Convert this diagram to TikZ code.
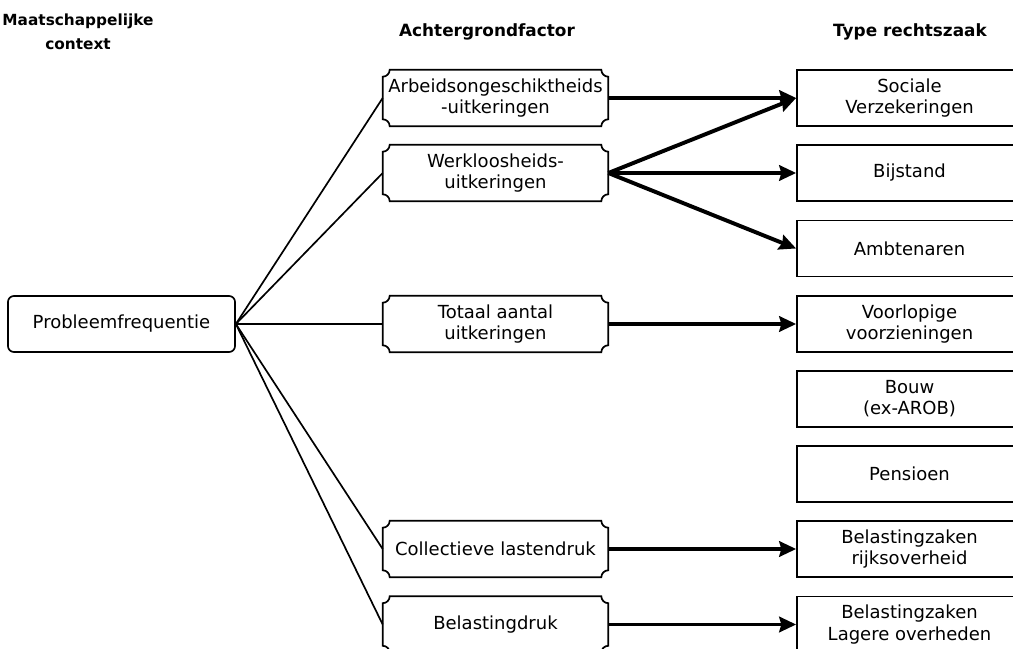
\documentclass[tikz,border=0pt]{standalone}
\usepackage{fontspec}
\setmainfont{DejaVu Sans}
\usetikzlibrary{arrows.meta}

\tikzset{
  context/.style={draw, line width=1.2pt, rounded corners=0.15cm, minimum width=5.675cm, minimum height=1.4cm, inner sep=0pt, align=center},
  factor/.style={minimum width=5.625cm, minimum height=1.4cm, inner sep=0pt, align=center},
  zaak/.style={draw, line width=1.2pt, minimum width=5.625cm, minimum height=1.4cm, inner sep=0pt, align=center},
  kop/.style={font=\fontsize{12}{17}\selectfont\bfseries, align=center},
  verband/.style={line width=1.2pt},
  pijl/.style={line width=2.8pt, -{Stealth[length=12pt,width=11pt,inset=1.5pt]}}
}

% frame with hollow corners for the middle column
\newcommand{\inkeping}[1]{%
  \draw[line width=1.2pt] ([xshift=0.175cm]#1.north west) -- ([xshift=-0.175cm]#1.north east)
    arc[start angle=180,end angle=270,radius=0.175cm]
    -- ([yshift=0.175cm]#1.south east)
    arc[start angle=90,end angle=180,radius=0.175cm]
    -- ([xshift=0.175cm]#1.south west)
    arc[start angle=0,end angle=90,radius=0.175cm]
    -- ([yshift=-0.175cm]#1.north west)
    arc[start angle=270,end angle=360,radius=0.175cm] -- cycle;}

\begin{document}
\begin{tikzpicture}[x=0.025cm, y=-0.025cm, font=\fontsize{12.8}{15}\selectfont]
  \useasboundingbox (0,0) rectangle (1013,649);
  \clip (0,0) rectangle (1013,649);

  % headings
  \node[kop, font=\fontsize{10.9}{17}\selectfont\bfseries] (kopcontext) at (78,32) {Maatschappelijke\\context};
  \node[kop] (kopfactor) at (487,32) {Achtergrondfactor};
  \node[kop] (kopzaak) at (910,32) {Type rechtszaak};

  % left column
  \node[context] (probleem) at (121.5,324) {Probleemfrequentie};

  % middle column
  \node[factor] (arbeid) at (495.5,98) {Arbeidsongeschiktheids\\-uitkeringen};
  \node[factor] (werkloos) at (495.5,173) {Werkloosheids-\\uitkeringen};
  \node[factor] (totaal) at (495.5,324) {Totaal aantal\\uitkeringen};
  \node[factor] (lasten) at (495.5,549) {Collectieve lastendruk};
  \node[factor] (belasting) at (495.5,624.5) {Belastingdruk};
  \foreach \n in {arbeid,werkloos,totaal,lasten,belasting}
    \inkeping{\n};

  % right column
  \node[zaak] (sociaal) at (909.5,98) {Sociale\\Verzekeringen};
  \node[zaak] (bijstand) at (909.5,173) {Bijstand};
  \node[zaak] (ambtenaar) at (909.5,248.5) {Ambtenaren};
  \node[zaak] (voorlopig) at (909.5,324) {Voorlopige\\voorzieningen};
  \node[zaak] (bouw) at (909.5,399) {Bouw\\(ex-AROB)};
  \node[zaak] (pensioen) at (909.5,474) {Pensioen};
  \node[zaak] (rijk) at (909.5,549) {Belastingzaken\\rijksoverheid};
  \node[zaak] (lager) at (909.5,624.5) {Belastingzaken\\Lagere overheden};

  % thin links
  \foreach \n in {arbeid,werkloos,totaal,lasten,belasting}
    \draw[verband] (probleem.east) -- (\n.west);

  % arrows
  \draw[pijl] (arbeid.east) -- (sociaal.west);
  \draw[pijl] (werkloos.east) -- (sociaal.west);
  \draw[pijl] (werkloos.east) -- (bijstand.west);
  \draw[pijl] (werkloos.east) -- (ambtenaar.west);
  \draw[pijl] (totaal.east) -- (voorlopig.west);
  \draw[pijl] (lasten.east) -- (rijk.west);
  \draw[pijl] (belasting.east) -- (lager.west);
\end{tikzpicture}
\end{document}
